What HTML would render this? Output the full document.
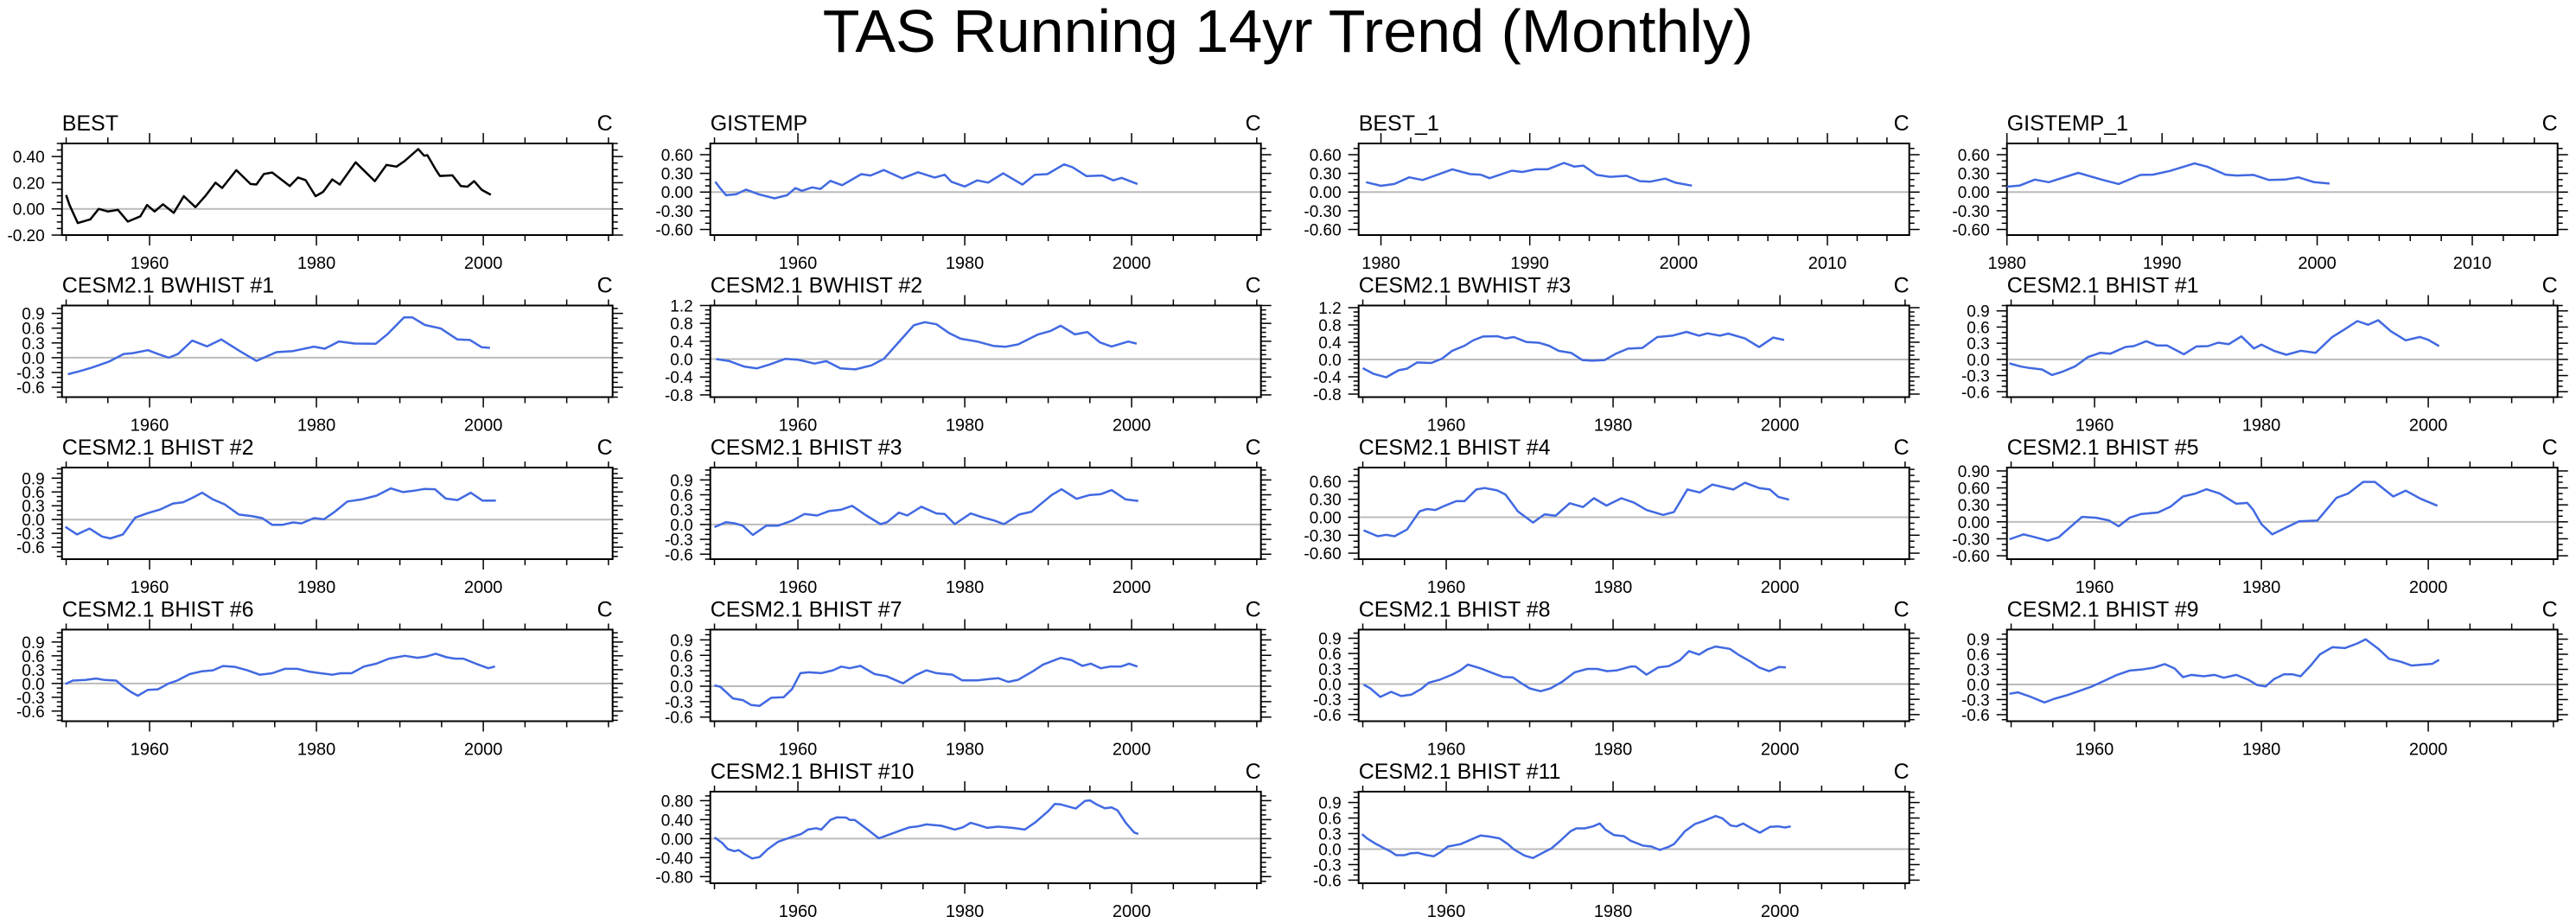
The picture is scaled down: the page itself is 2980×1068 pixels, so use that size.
<!DOCTYPE html>
<html><head><meta charset="utf-8"><style>
html,body{margin:0;padding:0;background:#fff;}
svg{display:block;font-family:"Liberation Sans",sans-serif;}
</style></head><body>
<svg id="chart" width="2980" height="1068" viewBox="0 0 2980 1068" xmlns="http://www.w3.org/2000/svg">
<rect x="0" y="0" width="2980" height="1068" fill="#fff"/>
<text x="1490" y="60" font-size="70" text-anchor="middle" fill="#000">TAS Running 14yr Trend (Monthly)</text>
</svg>
<script>
// ---- data ----
const yrsBEST=[1950,1950.4,1951.4,1952.9,1953.9,1955,1956.2,1957.4,1958.9,1959.7,1960.6,1961.6,1962.9,1964.1,1965.5,1966.7,1967.9,1968.7,1970.4,1972.1,1972.8,1973.7,1974.7,1976.8,1977.8,1978.7,1979.9,1980.8,1981.9,1982.8,1984.7,1986,1987,1988.4,1989.6,1990.6,1992.2,1992.9,1993.3,1994.3,1994.8,1996.3,1997.3,1998.1,1998.9,1999.8,2000.9];
const valBEST=[0.106,0.03,-0.108,-0.08,0,-0.02,-0.007,-0.097,-0.057,0.03,-0.02,0.035,-0.03,0.097,0.013,0.10,0.20,0.16,0.296,0.19,0.186,0.267,0.278,0.175,0.24,0.22,0.097,0.13,0.225,0.186,0.356,0.274,0.212,0.336,0.323,0.367,0.457,0.407,0.41,0.30,0.252,0.256,0.175,0.17,0.212,0.146,0.108];
const yrsGIS=[1950.1,1950.6,1951.4,1952.6,1953.8,1955.3,1957.2,1958.7,1959.7,1960.5,1961.7,1962.7,1963.9,1965.3,1967.6,1968.7,1970.3,1972.5,1974.4,1976.4,1977.6,1978.4,1980,1981.5,1982.8,1984.6,1986.9,1988.4,1989.9,1991.9,1992.9,1994.6,1996.5,1997.8,1998.8,2000.7];
const valGIS=[0.166,0.076,-0.05,-0.036,0.04,-0.036,-0.10,-0.05,0.063,0.02,0.076,0.05,0.18,0.11,0.287,0.265,0.354,0.22,0.318,0.233,0.278,0.166,0.09,0.188,0.152,0.30,0.12,0.278,0.287,0.444,0.40,0.256,0.265,0.188,0.228,0.13];
const yrsBEST1=[1979,1980,1980.9,1981.9,1982.8,1984.8,1986,1986.7,1987.3,1988.8,1989.5,1990.4,1991.2,1992.3,1993,1993.6,1994.5,1995.4,1996.5,1997.4,1998.1,1999.1,1999.8,2000.9];
const valBEST1=[0.159,0.10,0.13,0.236,0.193,0.365,0.288,0.28,0.223,0.343,0.322,0.365,0.365,0.468,0.408,0.425,0.275,0.245,0.262,0.176,0.167,0.215,0.15,0.103];
const yrsGIS1=[1980,1980.8,1981.8,1982.7,1984.6,1986.1,1987.2,1988.6,1989.4,1990.5,1992.1,1992.9,1994.1,1994.8,1995.9,1996.9,1997.9,1998.8,1999.8,2000.8];
const valGIS1=[0.086,0.103,0.20,0.159,0.309,0.20,0.129,0.275,0.279,0.339,0.459,0.408,0.279,0.266,0.275,0.193,0.20,0.236,0.159,0.137];
const yrsBW1=[1950.2,1951.6,1953.1,1955.1,1956.9,1958,1959.8,1961,1962.3,1963.4,1965.1,1966.9,1968.6,1970.8,1972.8,1975.2,1977.2,1979.7,1981,1982.7,1984.6,1987.1,1988.5,1990.5,1991.5,1993,1994.9,1996.9,1998.4,1999.8,2000.8];
const valBW1=[-0.335,-0.276,-0.2,-0.082,0.076,0.094,0.153,0.076,0,0.076,0.347,0.23,0.37,0.135,-0.065,0.112,0.135,0.224,0.182,0.33,0.288,0.282,0.476,0.818,0.818,0.665,0.594,0.37,0.359,0.212,0.2];
const yrsBW2=[1950.2,1951.7,1953.6,1955.1,1956.6,1958.5,1960,1962,1963.4,1965.1,1966.9,1968.8,1970.3,1972.3,1973.9,1975.2,1976.6,1978.1,1979.5,1981.5,1983.4,1984.9,1986.4,1988.8,1990.3,1991.5,1993.2,1994.7,1996.2,1997.6,1999.6,2000.6];
const valBW2=[0,-0.04,-0.17,-0.206,-0.12,0.006,-0.013,-0.1,-0.045,-0.206,-0.23,-0.14,0.006,0.426,0.76,0.826,0.78,0.587,0.458,0.394,0.297,0.277,0.33,0.555,0.632,0.748,0.555,0.606,0.374,0.284,0.394,0.348];
const yrsBW3=[1950,1951.3,1952.8,1954.3,1955.3,1956.5,1958.2,1959.5,1960.7,1962.2,1963.2,1964.4,1966.1,1967.1,1968.1,1969.6,1971.1,1972.3,1973.5,1975,1976.3,1977.5,1979,1980.3,1981.8,1983.5,1985.3,1987.1,1988.8,1990.3,1991.3,1992.8,1993.8,1995.8,1997.5,1999.2,2000.5];
const valBW3=[-0.2,-0.333,-0.413,-0.247,-0.213,-0.067,-0.08,0.02,0.2,0.32,0.44,0.533,0.54,0.487,0.52,0.407,0.387,0.32,0.2,0.153,-0.013,-0.027,-0.013,0.133,0.253,0.267,0.52,0.553,0.64,0.553,0.607,0.553,0.6,0.487,0.287,0.507,0.453];
const yrsBH1=[1949.8,1951.2,1952.2,1953.7,1954.9,1956.2,1957.7,1959.2,1960.7,1961.9,1963.7,1964.7,1966.2,1967.5,1968.7,1969.7,1970.7,1972.2,1973.6,1974.8,1976.1,1977.6,1979.1,1980,1981.5,1983,1984.7,1986.5,1988.5,1990,1991.5,1992.8,1994,1995.5,1997.3,1999,2000,2001.3];
const valBH1=[-0.075,-0.134,-0.16,-0.187,-0.289,-0.225,-0.128,0.043,0.123,0.107,0.23,0.246,0.337,0.257,0.257,0.176,0.096,0.24,0.246,0.31,0.283,0.428,0.203,0.273,0.16,0.086,0.16,0.123,0.417,0.561,0.711,0.642,0.727,0.524,0.353,0.417,0.364,0.246];
const yrsBH2=[1949.9,1951.3,1952.8,1954.3,1955.3,1956.8,1958.3,1959.8,1961.3,1962.8,1964,1965.3,1966.3,1967.6,1969,1970.7,1972.2,1973.5,1974.7,1975.9,1977.2,1978.2,1979.7,1980.9,1982.2,1983.7,1985.4,1987.2,1988.9,1990.4,1991.7,1992.9,1994.2,1995.5,1996.9,1998.5,1999.9,2001.5];
const valBH2=[-0.158,-0.323,-0.196,-0.368,-0.41,-0.323,0.044,0.14,0.222,0.349,0.374,0.488,0.583,0.437,0.33,0.108,0.076,0.032,-0.114,-0.114,-0.063,-0.082,0.032,0.006,0.171,0.393,0.437,0.52,0.678,0.596,0.627,0.665,0.659,0.456,0.425,0.583,0.412,0.412];
const yrsBH3=[1950,1951.4,1952.4,1953.4,1954.6,1956.2,1957.6,1959.3,1960.8,1962.3,1963.7,1965.2,1966.5,1968.2,1969.9,1970.7,1972.1,1973.1,1974.8,1976.6,1977.6,1978.8,1980.7,1982.2,1983.5,1984.7,1986.5,1988,1990.4,1991.6,1993.4,1994.9,1996.3,1997.6,1999.3,2000.8];
const valBH3=[-0.053,0.047,0.024,-0.024,-0.212,-0.024,-0.024,0.076,0.212,0.182,0.27,0.3,0.376,0.182,0.006,0.047,0.241,0.182,0.359,0.224,0.212,0.006,0.224,0.141,0.082,0.006,0.2,0.259,0.594,0.712,0.518,0.594,0.612,0.694,0.506,0.476];
const yrsBH4=[1950.1,1951.8,1952.8,1953.8,1955.3,1956.8,1957.7,1958.7,1959.7,1961.2,1962.2,1963.6,1964.6,1966.1,1967.1,1968.6,1970.4,1971.8,1973.1,1974.8,1976.4,1977.7,1979.2,1981,1982.5,1984,1986,1987.3,1988.9,1990.4,1991.9,1994.4,1995.8,1997.5,1998.8,1999.8,2001.1];
const valBH4=[-0.22,-0.317,-0.293,-0.317,-0.205,0.098,0.137,0.122,0.185,0.268,0.268,0.463,0.488,0.449,0.38,0.098,-0.088,0.049,0.024,0.234,0.171,0.317,0.195,0.317,0.244,0.122,0.039,0.088,0.463,0.415,0.546,0.463,0.576,0.488,0.463,0.341,0.293];
const yrsBH5=[1949.8,1951.5,1952.9,1954.4,1955.7,1957.2,1958.5,1960.2,1961.7,1962.9,1964.2,1965.6,1967.6,1969.1,1970.6,1972.1,1973.4,1975,1977,1978.3,1979,1980,1981.3,1982.7,1984.5,1986.7,1989,1990.4,1992.2,1993.6,1995.8,1997.3,1999.1,2001.1];
const valBH5=[-0.309,-0.222,-0.273,-0.335,-0.273,-0.077,0.088,0.072,0.026,-0.077,0.072,0.139,0.165,0.268,0.448,0.5,0.577,0.5,0.32,0.335,0.216,-0.041,-0.222,-0.119,0.01,0.021,0.423,0.5,0.706,0.706,0.448,0.552,0.407,0.284];
const yrsBH6=[1949.9,1950.8,1952.3,1953.6,1954.6,1956,1956.8,1957.8,1958.6,1959.8,1961,1962.3,1963.3,1964.8,1966.3,1967.6,1968.8,1970.2,1971.7,1973.2,1974.7,1976.2,1977.7,1979.2,1980.5,1981.9,1982.9,1984.2,1985.7,1987.2,1988.7,1990.6,1992.1,1993.1,1994.3,1995.6,1996.6,1997.6,1999.1,2000.6,2001.4];
const valBH6=[-0.013,0.063,0.076,0.108,0.076,0.063,-0.063,-0.19,-0.266,-0.139,-0.127,0,0.063,0.203,0.266,0.285,0.38,0.361,0.285,0.19,0.222,0.317,0.317,0.253,0.222,0.19,0.222,0.222,0.368,0.431,0.539,0.602,0.558,0.583,0.646,0.57,0.539,0.539,0.431,0.33,0.368];
const yrsBH7=[1950,1950.7,1952.2,1953.4,1954.4,1955.4,1956.8,1958.3,1959.3,1960.3,1961.3,1962.8,1964.2,1965.2,1966.2,1967.5,1969.2,1970.6,1972.6,1974.1,1975.4,1976.6,1978.5,1979.7,1981.5,1983,1984,1985.2,1986.4,1988.2,1989.4,1991.5,1992.8,1994.1,1995.1,1996.3,1997.4,1998.7,1999.7,2000.7];
const valBH7=[0.017,-0.011,-0.236,-0.27,-0.366,-0.382,-0.225,-0.214,-0.056,0.253,0.27,0.253,0.309,0.382,0.349,0.394,0.236,0.197,0.056,0.214,0.309,0.253,0.225,0.112,0.112,0.141,0.157,0.084,0.124,0.292,0.422,0.551,0.506,0.394,0.439,0.349,0.382,0.382,0.439,0.382];
const yrsBH8=[1950.1,1950.9,1952.1,1953.4,1954.6,1955.8,1957,1957.9,1959.2,1960.7,1961.7,1962.6,1964.1,1965.6,1966.8,1968,1969,1970,1971.3,1972.5,1973.9,1975.4,1976.9,1978.1,1979.3,1980.5,1982.1,1982.7,1984,1985.4,1986.7,1988,1989.1,1990.3,1991.3,1992.3,1994,1995,1996.5,1997.5,1998.7,1999.9,2000.7];
const valBH8=[-0.011,-0.084,-0.253,-0.152,-0.236,-0.208,-0.096,0.028,0.084,0.186,0.27,0.382,0.309,0.214,0.141,0.129,0.017,-0.084,-0.141,-0.084,0.045,0.231,0.298,0.298,0.253,0.27,0.343,0.343,0.186,0.326,0.354,0.467,0.647,0.579,0.68,0.737,0.692,0.579,0.439,0.326,0.253,0.337,0.326];
const yrsBH9=[1949.8,1950.8,1952.3,1954,1955.2,1956.7,1958.2,1959.7,1961.2,1962.7,1964.2,1965.6,1967.1,1968.4,1969.6,1970.6,1971.6,1973.1,1974.4,1975.5,1977,1978.5,1979.5,1980.5,1981.5,1982.7,1983.7,1984.7,1986,1987,1988.5,1990,1991.5,1992.5,1994,1995.3,1996.7,1998,1999.2,2000.5,2001.3];
const valBH9=[-0.185,-0.156,-0.243,-0.358,-0.283,-0.214,-0.127,-0.04,0.075,0.191,0.277,0.295,0.335,0.405,0.318,0.145,0.191,0.162,0.191,0.133,0.191,0.087,-0.012,-0.04,0.104,0.202,0.202,0.162,0.393,0.595,0.74,0.723,0.815,0.896,0.711,0.509,0.451,0.376,0.393,0.41,0.491];
const yrsBH10=[1950,1950.9,1951.6,1952.4,1952.9,1953.6,1954.5,1955.4,1956.4,1957.6,1959.1,1960.4,1961.2,1962.2,1962.8,1963.9,1964.7,1965.8,1966.2,1966.8,1968.2,1969.7,1970.7,1972.4,1973.4,1974.4,1975.4,1977.2,1978.8,1979.8,1980.7,1981.7,1982.7,1984,1985.7,1987.2,1988.5,1990,1990.8,1991.5,1993.3,1994.4,1995,1995.8,1996.8,1997.6,1998.3,1999.3,2000.3,2000.8];
const valBH10=[0.025,-0.086,-0.22,-0.265,-0.24,-0.326,-0.418,-0.388,-0.22,-0.068,0.025,0.098,0.19,0.22,0.19,0.394,0.45,0.443,0.394,0.394,0.21,0.006,0.068,0.178,0.24,0.258,0.30,0.27,0.19,0.24,0.332,0.283,0.228,0.252,0.228,0.19,0.35,0.578,0.732,0.72,0.634,0.794,0.806,0.72,0.64,0.658,0.597,0.332,0.13,0.098];
const yrsBH11=[1949.9,1950.5,1951.5,1952.5,1953.3,1954,1955,1955.7,1956.6,1957.5,1958.5,1959.3,1960.2,1961.7,1962.9,1964.1,1965.1,1966.4,1967.4,1968.1,1969.4,1970.4,1971.9,1972.6,1973.6,1974.9,1975.6,1976.6,1977.6,1978.4,1979.1,1980.1,1981.3,1982.1,1983.6,1984.6,1985.6,1986.6,1987.3,1988.6,1989.8,1990.8,1992.3,1993.1,1994.1,1994.8,1995.6,1996.6,1997.6,1998.8,1999.8,2000.6,2001.3];
const valBH11=[0.289,0.206,0.106,0.022,-0.044,-0.117,-0.117,-0.083,-0.072,-0.111,-0.139,-0.061,0.05,0.094,0.178,0.261,0.244,0.206,0.094,-0.006,-0.128,-0.172,-0.044,0.011,0.15,0.344,0.4,0.4,0.439,0.494,0.372,0.272,0.25,0.161,0.067,0.05,-0.017,0.039,0.094,0.344,0.483,0.539,0.639,0.594,0.456,0.439,0.494,0.4,0.317,0.428,0.439,0.417,0.439];

const panelTitles=["BEST","GISTEMP","BEST_1","GISTEMP_1","CESM2.1 BWHIST #1","CESM2.1 BWHIST #2","CESM2.1 BWHIST #3","CESM2.1 BHIST #1","CESM2.1 BHIST #2","CESM2.1 BHIST #3","CESM2.1 BHIST #4","CESM2.1 BHIST #5","CESM2.1 BHIST #6","CESM2.1 BHIST #7","CESM2.1 BHIST #8","CESM2.1 BHIST #9","CESM2.1 BHIST #10","CESM2.1 BHIST #11"];
const panelYears=[yrsBEST,yrsGIS,yrsBEST1,yrsGIS1,yrsBW1,yrsBW2,yrsBW3,yrsBH1,yrsBH2,yrsBH3,yrsBH4,yrsBH5,yrsBH6,yrsBH7,yrsBH8,yrsBH9,yrsBH10,yrsBH11];
const panelValues=[valBEST,valGIS,valBEST1,valGIS1,valBW1,valBW2,valBW3,valBH1,valBH2,valBH3,valBH4,valBH5,valBH6,valBH7,valBH8,valBH9,valBH10,valBH11];
const yMins=[-0.2,-0.69,-0.69,-0.69,-0.8,-0.85,-0.87,-0.7,-0.86,-0.7,-0.7,-0.66,-0.82,-0.68,-0.73,-0.73,-0.94,-0.66];
const yMaxs=[0.5,0.78,0.78,0.78,1.06,1.2,1.25,1.0,1.13,1.15,0.83,0.96,1.17,1.1,1.07,1.09,0.99,1.11];
const yTickLo=[-0.2,-0.6,-0.6,-0.6,-0.6,-0.8,-0.8,-0.6,-0.6,-0.6,-0.6,-0.6,-0.6,-0.6,-0.6,-0.6,-0.8,-0.6];
const yTickHi=[0.4,0.6,0.6,0.6,0.9,1.2,1.2,0.9,0.9,0.9,0.6,0.9,0.9,0.9,0.9,0.9,0.8,0.9];
const yTickStep=[0.2,0.3,0.3,0.3,0.3,0.4,0.4,0.3,0.3,0.3,0.3,0.3,0.3,0.3,0.3,0.3,0.4,0.3];
const yMinorStep=[0.05,0.1,0.1,0.1,0.1,0.1,0.1,0.1,0.1,0.1,0.1,0.1,0.1,0.1,0.1,0.1,0.1,0.1];
const yDecimals=[2,2,2,2,1,1,1,1,1,1,2,2,1,1,1,1,2,1];
const xMins=[1949.5,1949.5,1978.5,1980,1949.5,1949.5,1949.5,1949.5,1949.5,1949.5,1949.5,1949.5,1949.5,1949.5,1949.5,1949.5,1949.5,1949.5];
const xMaxs=[2015.5,2015.5,2015.5,2015.5,2015.5,2015.5,2015.5,2015.5,2015.5,2015.5,2015.5,2015.5,2015.5,2015.5,2015.5,2015.5,2015.5,2015.5];
const xMajorTicks=[[1960,1980,2000],[1960,1980,2000],[1980,1990,2000,2010],[1980,1990,2000,2010]];
const gridCols=[0,1,2,3,0,1,2,3,0,1,2,3,0,1,2,3,1,2];
const gridRows=[0,0,0,0,1,1,1,1,2,2,2,2,3,3,3,3,4,4];

// ---- drawing ----
const NS="http://www.w3.org/2000/svg";
const svg=document.getElementById('chart');
function mk(tag,attrs,parent){const e=document.createElementNS(NS,tag);for(const k in attrs)e.setAttribute(k,attrs[k]);(parent||svg).appendChild(e);return e;}
const BW=637,BH=106;
function slug(s){return s.toLowerCase().replace(/[^a-z0-9]+/g,'-').replace(/^-|-$/g,'');}

for(let i=0;i<panelTitles.length;i++){
  const L=71.7+750*gridCols[i], T=166+187.5*gridRows[i];
  const x0=xMins[i],x1=xMaxs[i],y0=yMins[i],y1=yMaxs[i];
  const sx=v=>L+(v-x0)/(x1-x0)*BW;
  const sy=v=>T+BH-(v-y0)/(y1-y0)*BH;
  const g=mk('g',{});
  
  
  const t=mk('text',{x:L,y:T-15,'font-size':25,fill:'#000'},g);
  t.textContent=panelTitles[i];
  
  
  const c=mk('text',{x:L+BW,y:T-15,'font-size':25,fill:'#000','text-anchor':'end'},g);
  c.textContent='C';
  
  
  const z=mk('line',{x1:L,x2:L+BW,y1:sy(0),y2:sy(0),stroke:'#bbb','stroke-width':2},g);
  
  
  const shortAxis=(x1-x0)<50;
  const majors=shortAxis?xMajorTicks[2]:xMajorTicks[0];
  const minorStep=shortAxis?2:5;
  const xt=mk('g',{stroke:'#000','stroke-width':1.5},g);
  
  
  for(let yr=Math.ceil(x0/minorStep)*minorStep;yr<=x1;yr+=minorStep){
    const X=sx(yr),len=majors.includes(yr)?12:7;
    mk('line',{x1:X,x2:X,y1:T,y2:T-len},xt);
    mk('line',{x1:X,x2:X,y1:T+BH,y2:T+BH+len},xt);
  }
  majors.forEach(yr=>{
    const lb=mk('text',{x:sx(yr),y:T+BH+39,'font-size':20,'text-anchor':'middle',fill:'#000'},g);
    lb.textContent=String(yr);
    
    
  });
  const yt=mk('g',{stroke:'#000','stroke-width':1.5},g);
  
  
  const ms=yMinorStep[i];
  for(let k=Math.ceil(y0/ms-1e-6);k*ms<=y1+1e-9;k++){
    const v=k*ms,Y=sy(v);
    const rel=(v-yTickLo[i])/yTickStep[i];
    const isMajor=Math.abs(rel-Math.round(rel))<1e-6 && v>=yTickLo[i]-1e-9 && v<=yTickHi[i]+1e-9;
    const len=isMajor?12:6;
    mk('line',{x1:L,x2:L-len,y1:Y,y2:Y},yt);
    mk('line',{x1:L+BW,x2:L+BW+len,y1:Y,y2:Y},yt);
  }
  const nT=Math.round((yTickHi[i]-yTickLo[i])/yTickStep[i]);
  for(let k=0;k<=nT;k++){
    const v=yTickLo[i]+k*yTickStep[i];
    const lb=mk('text',{x:L-20,y:sy(v)+7,'font-size':19,'text-anchor':'end',fill:'#000'},g);
    lb.textContent=(Math.abs(v)<1e-9?0:v).toFixed(yDecimals[i]);
    
    
  }
  const fr=mk('rect',{x:L,y:T,width:BW,height:BH,fill:'none',stroke:'#000','stroke-width':2},g);
  
  
  const yrs=panelYears[i],vals=panelValues[i];
  const pts=yrs.map((yr,j)=>sx(yr).toFixed(1)+','+sy(vals[j]).toFixed(1)).join(' ');
  const pl=mk('polyline',{points:pts,fill:'none',stroke:i===0?'#000':'#4169E1','stroke-width':2.5,'stroke-linejoin':'round'},g);
  
  
}
</script>
</body></html>
